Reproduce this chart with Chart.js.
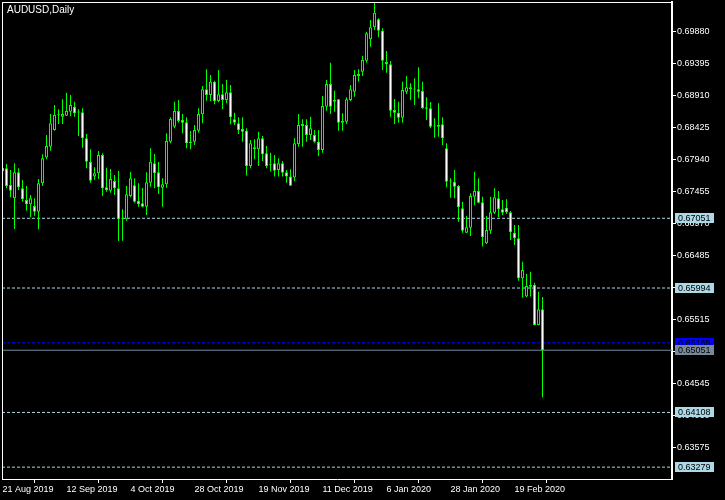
<!DOCTYPE html>
<html>
<head>
<meta charset="utf-8">
<script src="https://cdn.jsdelivr.net/npm/chart.js@4.4.0/dist/chart.umd.min.js"></script>
<style>
  html, body { margin: 0; padding: 0; background: #000; }
  canvas { display: block; }
</style>
</head>
<body>
<canvas id="chart" width="725" height="500"></canvas>
<script>
const symbol_title = 'AUDUSD,Daily';

// daily candles, one per trading day from 21 Aug 2019 to 28 Feb 2020
const opens = [
  0.67814, 0.67809, 0.67556, 0.67354, 0.67749, 0.67506, 0.67329, 0.67264, 0.67238, 0.67151,
  0.67582, 0.67971, 0.68137, 0.68390, 0.68617, 0.68592, 0.68607, 0.68667, 0.68743, 0.68660,
  0.68658, 0.68264, 0.67909, 0.67683, 0.67734, 0.68011, 0.67521, 0.67469, 0.67617, 0.67506,
  0.67044, 0.67036, 0.67389, 0.67552, 0.67314, 0.67279, 0.67228, 0.67591, 0.67885, 0.67749,
  0.67516, 0.67567, 0.68212, 0.68440, 0.68678, 0.68541, 0.68506, 0.68212, 0.68212, 0.68379,
  0.68628, 0.69007, 0.68920, 0.69122, 0.68829, 0.68931, 0.68844, 0.68961, 0.68552, 0.68491,
  0.68405, 0.68379, 0.67844, 0.68127, 0.68097, 0.68264, 0.68037, 0.67862, 0.67885, 0.67784,
  0.67885, 0.67749, 0.67683, 0.67668, 0.68177, 0.68450, 0.68465, 0.68314, 0.68314, 0.68212,
  0.68087, 0.68743, 0.69087, 0.68818, 0.68855, 0.68526, 0.68515, 0.68844, 0.68970, 0.69208,
  0.69273, 0.69440, 0.69764, 0.69946, 0.70067, 0.69894, 0.69421, 0.69386, 0.68693, 0.68652,
  0.68576, 0.68970, 0.69037, 0.69010, 0.69007, 0.68981, 0.68733, 0.68718, 0.68448, 0.68440,
  0.68476, 0.68112, 0.67615, 0.67606, 0.67541, 0.67203, 0.66833, 0.66909, 0.67379, 0.67465,
  0.67294, 0.66673, 0.66863, 0.67136, 0.67354, 0.67188, 0.67212, 0.67142, 0.66833, 0.66749,
  0.66142, 0.65864, 0.66040, 0.66040, 0.65434, 0.65672
];
const highs = [
  0.67844, 0.67874, 0.67784, 0.67885, 0.67809, 0.67632, 0.67541, 0.67404, 0.67354, 0.67648,
  0.68022, 0.68314, 0.68632, 0.68768, 0.68703, 0.68855, 0.68955, 0.68920, 0.68818, 0.68703,
  0.68718, 0.68329, 0.68097, 0.67824, 0.68072, 0.68037, 0.67819, 0.67799, 0.67708, 0.67769,
  0.67188, 0.67541, 0.67754, 0.67658, 0.67582, 0.67511, 0.67749, 0.68112, 0.68026, 0.67905,
  0.67658, 0.68340, 0.68582, 0.68818, 0.68844, 0.68632, 0.68582, 0.68375, 0.68465, 0.68718,
  0.69057, 0.69310, 0.69223, 0.69137, 0.69299, 0.69087, 0.69148, 0.69072, 0.68652, 0.68582,
  0.68582, 0.68415, 0.68238, 0.68249, 0.68364, 0.68299, 0.68147, 0.68046, 0.68011, 0.67961,
  0.67920, 0.67784, 0.67795, 0.68264, 0.68632, 0.68552, 0.68552, 0.68592, 0.68390, 0.68390,
  0.68905, 0.69148, 0.69410, 0.68985, 0.68860, 0.68643, 0.68885, 0.69072, 0.69299, 0.69310,
  0.69511, 0.69880, 0.70057, 0.70319, 0.70082, 0.69931, 0.69587, 0.69436, 0.68860, 0.68818,
  0.69122, 0.69208, 0.69098, 0.69173, 0.69340, 0.69122, 0.68885, 0.68814, 0.68567, 0.68794,
  0.68582, 0.68188, 0.67658, 0.67784, 0.67556, 0.67303, 0.67086, 0.67430, 0.67758, 0.67658,
  0.67379, 0.67086, 0.67379, 0.67506, 0.67465, 0.67329, 0.67339, 0.67162, 0.66950, 0.66950,
  0.66393, 0.66207, 0.66242, 0.66075, 0.65939, 0.65858
];
const lows = [
  0.67708, 0.67506, 0.67369, 0.66890, 0.67480, 0.67303, 0.67166, 0.67066, 0.67091, 0.66885,
  0.67541, 0.67946, 0.68076, 0.68379, 0.68480, 0.68480, 0.68602, 0.68602, 0.68592, 0.68299,
  0.68122, 0.67809, 0.67591, 0.67632, 0.67648, 0.67389, 0.67454, 0.67439, 0.67404, 0.66708,
  0.66712, 0.67015, 0.67369, 0.67288, 0.67228, 0.67218, 0.67101, 0.67531, 0.67506, 0.67419,
  0.67228, 0.67516, 0.68188, 0.68415, 0.68500, 0.68340, 0.68112, 0.68097, 0.68162, 0.68349,
  0.68491, 0.68833, 0.68829, 0.68779, 0.68809, 0.68708, 0.68794, 0.68476, 0.68465, 0.68329,
  0.68212, 0.67698, 0.67809, 0.67946, 0.67844, 0.67920, 0.67809, 0.67760, 0.67683, 0.67683,
  0.67683, 0.67591, 0.67541, 0.67617, 0.68137, 0.68137, 0.68212, 0.68238, 0.68197, 0.67996,
  0.68046, 0.68682, 0.68632, 0.68667, 0.68379, 0.68379, 0.68480, 0.68829, 0.68895, 0.69122,
  0.69208, 0.69410, 0.69653, 0.69905, 0.69794, 0.69299, 0.69258, 0.68592, 0.68480, 0.68500,
  0.68500, 0.68935, 0.68844, 0.68768, 0.68870, 0.68712, 0.68541, 0.68415, 0.68274, 0.68289,
  0.68162, 0.67521, 0.67364, 0.67354, 0.67000, 0.66833, 0.66828, 0.66783, 0.67253, 0.67279,
  0.66622, 0.66662, 0.66813, 0.67116, 0.67066, 0.67101, 0.67116, 0.66723, 0.66647, 0.66105,
  0.65849, 0.65854, 0.65864, 0.65430, 0.65430, 0.64335
];
const closes = [
  0.67769, 0.67541, 0.67469, 0.67749, 0.67521, 0.67339, 0.67264, 0.67354, 0.67151, 0.67582,
  0.67961, 0.68147, 0.68491, 0.68617, 0.68612, 0.68632, 0.68678, 0.68768, 0.68643, 0.68655,
  0.68264, 0.67909, 0.67621, 0.67734, 0.68011, 0.67506, 0.67480, 0.67648, 0.67506, 0.67036,
  0.67052, 0.67415, 0.67658, 0.67303, 0.67268, 0.67228, 0.67597, 0.67909, 0.67734, 0.67521,
  0.67567, 0.68223, 0.68557, 0.68678, 0.68526, 0.68500, 0.68188, 0.68188, 0.68390, 0.68632,
  0.69007, 0.68920, 0.69122, 0.68829, 0.68931, 0.68844, 0.68961, 0.68582, 0.68500, 0.68390,
  0.68364, 0.67844, 0.68188, 0.68097, 0.68264, 0.68022, 0.67844, 0.67856, 0.67773, 0.67885,
  0.67743, 0.67683, 0.67546, 0.68188, 0.68465, 0.68480, 0.68314, 0.68415, 0.68212, 0.68087,
  0.68753, 0.69087, 0.68743, 0.68844, 0.68500, 0.68500, 0.68855, 0.69007, 0.69223, 0.69238,
  0.69451, 0.69855, 0.69946, 0.70167, 0.69894, 0.69440, 0.69386, 0.68682, 0.68652, 0.68576,
  0.68996, 0.69037, 0.69007, 0.69004, 0.68970, 0.68718, 0.68712, 0.68440, 0.68442, 0.68465,
  0.68264, 0.67606, 0.67609, 0.67531, 0.67218, 0.66863, 0.66915, 0.67389, 0.67465, 0.67288,
  0.66763, 0.66874, 0.67142, 0.67369, 0.67188, 0.67136, 0.67142, 0.66839, 0.66749, 0.66142,
  0.66268, 0.66025, 0.66015, 0.65434, 0.65672, 0.65051
];

// time axis: bar index of each date label
const date_ticks = [0, 16, 32, 48, 64, 80, 96, 112, 128];
const date_labels = ['21 Aug 2019', '12 Sep 2019', '4 Oct 2019', '28 Oct 2019', '19 Nov 2019',
                     '11 Dec 2019', '6 Jan 2020', '28 Jan 2020', '19 Feb 2020'];

// price axis
const price_ticks = [0.69880, 0.69395, 0.68910, 0.68425, 0.67940, 0.67455, 0.66970,
                     0.66485, 0.66000, 0.65515, 0.65030, 0.64545, 0.64060, 0.63575];
const price_min = 0.63099;
const price_max = 0.70330;

// horizontal levels
const levels = [0.67051, 0.65994, 0.64108, 0.63279];
const ask_level = 0.65165;
const bid_level = 0.65051;

const bar_min = -0.125;
const bar_max = 167.375;

const FONT = '"Liberation Sans", Arial, sans-serif';

let body_data = [];
let wick_data = [];
let body_fill = [];
opens.forEach((o, i) => {
    body_data.push({ x: i, y: [o, closes[i]] });
    wick_data.push({ x: i, y: [lows[i], highs[i]] });
    body_fill.push(closes[i] >= o ? '#000000' : '#ffffff');
});

function level_line(value, color, dash) {
    return {
        type: 'line',
        data: [{ x: bar_min, y: value }, { x: bar_max, y: value }],
        borderColor: color,
        borderWidth: 1,
        borderDash: dash,
        pointRadius: 0,
        order: 3
    };
}

let datasets = [
    {
        data: body_data,
        backgroundColor: body_fill,
        borderColor: '#00ff00',
        borderWidth: 1,
        borderSkipped: false,
        inflateAmount: 0,
        barThickness: 3,
        minBarLength: 1,
        grouped: false,
        order: 0
    },
    {
        data: wick_data,
        backgroundColor: '#00ff00',
        borderWidth: 0,
        inflateAmount: 0,
        barThickness: 1,
        grouped: false,
        order: 1
    }
];
levels.forEach(v => datasets.push(level_line(v, '#add8e6', [3, 2])));
datasets.push(level_line(ask_level, '#0000ff', [3, 2]));
datasets.push(level_line(bid_level, '#778899', []));

// price boxes on the right scale
const level_boxes = [
    { value: levels[0], color: '#add8e6' },
    { value: levels[1], color: '#add8e6' },
    { value: levels[2], color: '#add8e6' },
    { value: levels[3], color: '#add8e6' },
    { value: ask_level, color: '#0000ff' },
    { value: bid_level, color: '#778899' }
];

const overlay = {
    id: 'overlay',
    afterDraw(chart) {
        const ctx = chart.ctx;
        const area = chart.chartArea;
        const y = chart.scales.y;
        ctx.save();
        // frame (left and top, others come from the axes)
        ctx.fillStyle = '#ffffff';
        ctx.fillRect(area.left, area.top, area.right - area.left, 1);
        ctx.fillRect(area.left, area.top, 1, area.bottom - area.top);
        // symbol caption
        ctx.font = '10px ' + FONT;
        ctx.textBaseline = 'middle';
        ctx.textAlign = 'left';
        ctx.fillText(symbol_title, area.left + 5, area.top + 8);
        // level labels
        ctx.font = '9px ' + FONT;
        level_boxes.forEach(b => {
            const py = Math.round(y.getPixelForValue(b.value));
            ctx.fillStyle = b.color;
            ctx.fillRect(area.right + 3, py - 5, 39, 10);
            ctx.fillStyle = '#000000';
            ctx.fillText(b.value.toFixed(5), area.right + 6, py + 0.5);
        });
        ctx.restore();
    }
};

function no_padding(scale) {
    scale.paddingTop = 0;
    scale.paddingBottom = 0;
    scale.paddingLeft = 0;
    scale.paddingRight = 0;
}

const ctx = document.getElementById('chart').getContext('2d');
new Chart(ctx, {
    type: 'bar',
    data: { datasets: datasets },
    options: {
        responsive: false,
        animation: false,
        devicePixelRatio: 1,
        layout: { padding: { left: 2, top: 2, right: 0, bottom: 0 } },
        plugins: {
            legend: { display: false },
            tooltip: { enabled: false },
            title: { display: false }
        },
        scales: {
            x: {
                type: 'linear',
                min: bar_min,
                max: bar_max,
                offset: false,
                afterBuildTicks: scale => { scale.ticks = date_ticks.map(v => ({ value: v })); },
                afterFit: scale => { scale.height = 21; no_padding(scale); },
                grid: { drawOnChartArea: false, color: '#ffffff', tickLength: 4 },
                border: { color: '#ffffff', width: 1 },
                ticks: {
                    autoSkip: false,
                    maxRotation: 0,
                    align: 'start',
                    padding: 1,
                    color: '#ffffff',
                    font: { family: FONT, size: 9 },
                    callback: (val, index) => date_labels[index]
                }
            },
            y: {
                position: 'right',
                min: price_min,
                max: price_max,
                afterBuildTicks: scale => { scale.ticks = price_ticks.map(v => ({ value: v })); },
                afterFit: scale => { scale.width = 53; no_padding(scale); },
                grid: { drawOnChartArea: false, color: '#ffffff', tickLength: 4 },
                border: { color: '#ffffff', width: 2 },
                ticks: {
                    padding: 1,
                    color: '#ffffff',
                    font: { family: FONT, size: 9 },
                    callback: val => val.toFixed(5)
                }
            }
        }
    },
    plugins: [overlay]
});
</script>
</body>
</html>
